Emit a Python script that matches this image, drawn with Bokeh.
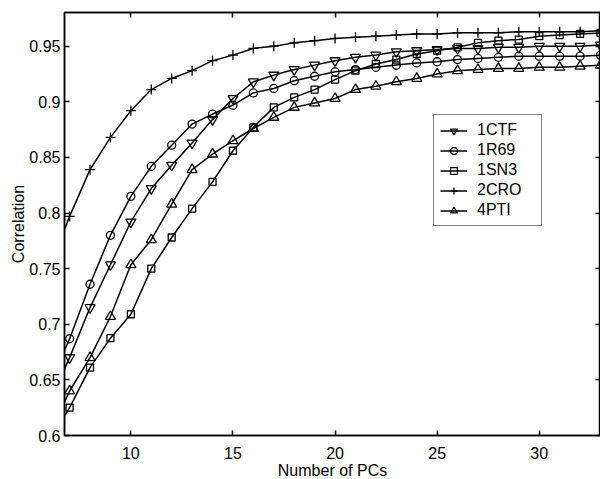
from bokeh.plotting import figure
from bokeh.models import LinearAxis, FixedTicker, Legend, LegendItem, Range1d
from bokeh.embed import file_html
from bokeh.resources import INLINE

# Number of principal components (x) - first point (6) lies just outside the view
pcs = list(range(6, 34))

ctf_1 = [0.630, 0.670, 0.715, 0.7535, 0.792, 0.822, 0.843, 0.863, 0.884, 0.903,
         0.918, 0.924, 0.929, 0.933, 0.937, 0.940, 0.942, 0.945, 0.946, 0.947,
         0.948, 0.948, 0.949, 0.949, 0.950, 0.950, 0.950, 0.951]
r69_1 = [0.645, 0.687, 0.736, 0.780, 0.815, 0.842, 0.861, 0.880, 0.889, 0.897,
         0.908, 0.912, 0.919, 0.923, 0.927, 0.929, 0.931, 0.933, 0.935, 0.936,
         0.938, 0.939, 0.940, 0.941, 0.941, 0.941, 0.941, 0.942]
sn3_1 = [0.595, 0.625, 0.661, 0.6875, 0.709, 0.750, 0.778, 0.804, 0.828, 0.856,
         0.877, 0.895, 0.904, 0.911, 0.920, 0.928, 0.934, 0.938, 0.943, 0.946,
         0.949, 0.953, 0.955, 0.956, 0.959, 0.960, 0.961, 0.962]
cro_2 = [0.750, 0.797, 0.839, 0.868, 0.892, 0.911, 0.921, 0.928, 0.937, 0.942,
         0.948, 0.950, 0.953, 0.955, 0.957, 0.958, 0.959, 0.960, 0.961, 0.961,
         0.962, 0.962, 0.962, 0.963, 0.963, 0.963, 0.963, 0.964]
pti_4 = [0.600, 0.640, 0.670, 0.707, 0.7535, 0.776, 0.808, 0.839, 0.853, 0.865,
         0.876, 0.886, 0.895, 0.899, 0.903, 0.911, 0.914, 0.918, 0.921, 0.925,
         0.928, 0.929, 0.930, 0.930, 0.931, 0.931, 0.932, 0.933]

series_names = ["1CTF", "1R69", "1SN3", "2CRO", "4PTI"]
series_values = [ctf_1, r69_1, sn3_1, cro_2, pti_4]
series_markers = ["inverted_triangle", "circle", "square", "cross", "triangle"]
series_sizes = [10, 8, 7, 10, 10]

x_ticks = [10, 15, 20, 25, 30]
x_tick_labels = ["10", "15", "20", "25", "30"]
y_ticks = [0.6, 0.65, 0.7, 0.75, 0.8, 0.85, 0.9, 0.95]
y_tick_labels = ["0.6", "0.65", "0.7", "0.75", "0.8", "0.85", "0.9", "0.95"]

FONT = "Liberation Sans"

p = figure(frame_width=536, frame_height=423,
           x_range=Range1d(6.75, 33), y_range=Range1d(0.6, 0.9803),
           output_backend="svg", toolbar_location=None,
           min_border_left=64, min_border_top=12, min_border_right=0,
           min_border_bottom=0)
p.background_fill_color = "white"
p.border_fill_color = "white"
p.outline_line_color = "black"
p.outline_line_width = 1.5
p.xgrid.visible = False
p.ygrid.visible = False

items = []
for name, vals, mk, sz in zip(series_names, series_values, series_markers, series_sizes):
    lr = p.line(pcs, vals, line_color="black", line_width=1.5)
    sr = p.scatter(pcs, vals, marker=mk, size=sz, fill_color=None,
                   line_color="black", line_width=1.3)
    items.append(LegendItem(label=name, renderers=[lr, sr]))

def style_axis(ax, ticks, show_labels=True):
    ax.ticker = FixedTicker(ticks=ticks)
    ax.minor_tick_line_color = None
    ax.major_tick_in = 5
    ax.major_tick_out = 0
    ax.major_tick_line_color = "black"
    ax.major_tick_line_width = 1.5
    ax.axis_line_color = "black"
    ax.axis_line_width = 1.5
    ax.major_label_text_font = FONT
    ax.major_label_text_font_size = "16px" if show_labels else "0px"
    ax.major_label_text_color = "black"
    ax.axis_label_text_font = FONT
    ax.axis_label_text_font_size = "16px"
    ax.axis_label_text_font_style = "normal"
    ax.axis_label_text_color = "black"
    if not show_labels:
        ax.major_label_standoff = 0
        ax.major_label_overrides = {t: "" for t in ticks}

style_axis(p.xaxis[0], x_ticks)
style_axis(p.yaxis[0], y_ticks)
p.xaxis[0].axis_label = "Number of PCs"
p.xaxis[0].major_label_standoff = 11
p.xaxis[0].axis_label_standoff = 0
p.xaxis[0].major_label_overrides = {t: s for t, s in zip(x_ticks, x_tick_labels)}
p.yaxis[0].axis_label = "Correlation"
p.yaxis[0].major_label_standoff = 4
p.yaxis[0].axis_label_standoff = -1
p.yaxis[0].major_label_overrides = {t: s for t, s in zip(y_ticks, y_tick_labels)}

top_ax = LinearAxis()
style_axis(top_ax, x_ticks, show_labels=False)
p.add_layout(top_ax, "above")
right_ax = LinearAxis()
style_axis(right_ax, y_ticks, show_labels=False)
p.add_layout(right_ax, "right")

legend = Legend(items=items, location=(369, 209))
legend.label_text_font = FONT
legend.label_text_font_size = "16px"
legend.label_text_color = "black"
legend.border_line_color = "black"
legend.border_line_width = 1
legend.background_fill_color = "white"
legend.background_fill_alpha = 1
legend.padding = 6
legend.margin = 0
legend.spacing = 2
legend.label_height = 17
legend.glyph_height = 17
legend.glyph_width = 27
legend.label_standoff = 10
legend.label_width = 58
p.add_layout(legend, "center")

open("out.html", "w").write(file_html(p, INLINE))
